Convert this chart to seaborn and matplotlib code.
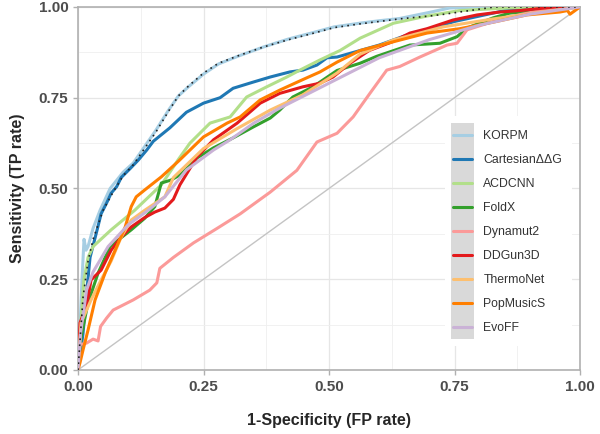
import matplotlib
matplotlib.use("Agg")
import matplotlib.pyplot as plt
import numpy as np
import pandas as pd
import seaborn as sns
from matplotlib.patches import Rectangle
from matplotlib.ticker import MultipleLocator

# ROC curves (FP rate, TP rate)
korpm_fpr = [0, 0.004, 0.008, 0.012, 0.016, 0.02, 0.03, 0.044, 0.064, 0.09, 0.11, 0.13,
             0.155, 0.18, 0.2, 0.22, 0.25, 0.28, 0.32, 0.37, 0.42, 0.47, 0.51, 0.56,
             0.6, 0.64, 0.7, 0.74, 0.8, 1.0]
korpm_tpr = [0, 0.12, 0.25, 0.36, 0.33, 0.34, 0.39, 0.44, 0.5, 0.545, 0.57, 0.61,
             0.66, 0.715, 0.755, 0.78, 0.815, 0.843, 0.865, 0.89, 0.912, 0.93, 0.945, 0.955,
             0.962, 0.968, 0.985, 0.997, 1.0, 1.0]

cartesian_fpr = [0, 0.01, 0.017, 0.024, 0.037, 0.046, 0.057, 0.066, 0.077, 0.086, 0.104, 0.12,
                 0.137, 0.15, 0.183, 0.216, 0.25, 0.283, 0.309, 0.349, 0.383, 0.422, 0.448,
                 0.476, 0.496, 0.516, 0.562, 0.6, 0.65, 0.7, 0.75, 0.8, 0.85, 0.9, 1.0]
cartesian_tpr = [0, 0.1, 0.21, 0.31, 0.38, 0.43, 0.46, 0.487, 0.505, 0.53, 0.555, 0.578,
                 0.606, 0.63, 0.667, 0.71, 0.735, 0.75, 0.776, 0.793, 0.807, 0.821, 0.826,
                 0.84, 0.86, 0.862, 0.88, 0.895, 0.92, 0.94, 0.96, 0.975, 0.99, 1.0, 1.0]

acdcnn_fpr = [0, 0.005, 0.012, 0.02, 0.03, 0.066, 0.113, 0.166, 0.2, 0.223, 0.263, 0.303,
              0.336, 0.376, 0.416, 0.442, 0.482, 0.522, 0.562, 0.628, 0.695, 0.76, 0.827,
              0.9, 1.0]
acdcnn_tpr = [0, 0.12, 0.25, 0.31, 0.34, 0.386, 0.44, 0.51, 0.58, 0.625, 0.68, 0.697,
              0.752, 0.78, 0.807, 0.826, 0.854, 0.88, 0.914, 0.955, 0.975, 0.99, 0.995,
              1.0, 1.0]

foldx_fpr = [0, 0.006, 0.02, 0.04, 0.064, 0.08, 0.106, 0.133, 0.153, 0.166, 0.185, 0.203,
             0.237, 0.27, 0.31, 0.35, 0.383, 0.402, 0.428, 0.468, 0.516, 0.562, 0.595,
             0.661, 0.721, 0.755, 0.775, 0.827, 0.86, 0.926, 1.0]
foldx_tpr = [0, 0.09, 0.185, 0.267, 0.34, 0.358, 0.386, 0.418, 0.45, 0.515, 0.523, 0.537,
             0.584, 0.612, 0.64, 0.67, 0.694, 0.716, 0.752, 0.78, 0.825, 0.845, 0.864,
             0.895, 0.9, 0.918, 0.942, 0.97, 0.983, 0.99, 1.0]

dynamut2_fpr = [0, 0.004, 0.017, 0.03, 0.04, 0.045, 0.057, 0.07, 0.11, 0.143, 0.157, 0.163,
                0.19, 0.23, 0.277, 0.323, 0.383, 0.436, 0.476, 0.516, 0.548, 0.582, 0.615,
                0.641, 0.681, 0.735, 0.755, 0.775, 0.85, 0.92, 1.0]
dynamut2_tpr = [0, 0.07, 0.074, 0.085, 0.08, 0.12, 0.143, 0.165, 0.193, 0.22, 0.24, 0.28,
                0.31, 0.35, 0.39, 0.43, 0.49, 0.55, 0.628, 0.652, 0.697, 0.763, 0.826,
                0.836, 0.862, 0.895, 0.9, 0.937, 0.97, 0.99, 1.0]

ddgun3d_fpr = [0, 0.004, 0.017, 0.026, 0.046, 0.066, 0.086, 0.106, 0.133, 0.153, 0.173, 0.19,
               0.203, 0.237, 0.27, 0.317, 0.363, 0.402, 0.448, 0.482, 0.508, 0.542, 0.58,
               0.628, 0.661, 0.695, 0.747, 0.795, 0.84, 0.88, 0.95, 1.0]
ddgun3d_tpr = [0, 0.13, 0.175, 0.248, 0.275, 0.33, 0.366, 0.394, 0.42, 0.435, 0.446, 0.47,
               0.51, 0.587, 0.634, 0.68, 0.735, 0.762, 0.78, 0.79, 0.807, 0.845, 0.88,
               0.905, 0.928, 0.94, 0.964, 0.978, 0.986, 0.99, 1.0, 1.0]

thermonet_fpr = [0, 0.006, 0.026, 0.046, 0.066, 0.086, 0.106, 0.133, 0.173, 0.19, 0.25,
                 0.317, 0.383, 0.448, 0.516, 0.562, 0.628, 0.727, 0.827, 0.926, 1.0]
thermonet_tpr = [0, 0.13, 0.193, 0.248, 0.3, 0.366, 0.413, 0.44, 0.477, 0.53, 0.61,
                 0.665, 0.716, 0.758, 0.818, 0.87, 0.909, 0.945, 0.967, 0.986, 1.0]

popmusics_fpr = [0, 0.004, 0.01, 0.02, 0.034, 0.054, 0.074, 0.094, 0.106, 0.116, 0.133,
                 0.166, 0.2, 0.25, 0.297, 0.323, 0.363, 0.402, 0.448, 0.482, 0.516, 0.562,
                 0.628, 0.695, 0.76, 0.827, 0.894, 0.96, 0.975, 0.98, 1.0]
popmusics_tpr = [0, 0.02, 0.055, 0.11, 0.193, 0.267, 0.33, 0.394, 0.45, 0.477, 0.496,
                 0.532, 0.575, 0.642, 0.68, 0.697, 0.744, 0.771, 0.8, 0.821, 0.848, 0.88,
                 0.904, 0.928, 0.94, 0.958, 0.978, 0.986, 0.99, 0.98, 1.0]

evoff_fpr = [0, 0.005, 0.017, 0.03, 0.06, 0.1, 0.14, 0.173, 0.216, 0.27, 0.303, 0.35,
             0.4, 0.5, 0.6, 0.7, 0.8, 0.9, 1.0]
evoff_tpr = [0, 0.1, 0.22, 0.27, 0.34, 0.4, 0.44, 0.477, 0.551, 0.606, 0.634, 0.68,
             0.72, 0.79, 0.86, 0.91, 0.95, 0.98, 1.0]

# dotted reference curve drawn over KORPM
dotted_fpr = [0, 0.005, 0.01, 0.02, 0.03, 0.05, 0.07, 0.09, 0.11, 0.13, 0.155, 0.18, 0.2,
              0.22, 0.25, 0.28, 0.32, 0.37, 0.42, 0.47, 0.51, 0.56, 0.6, 0.64, 0.7, 0.73,
              0.78, 0.83, 1.0]
dotted_tpr = [0, 0.1, 0.2, 0.3, 0.36, 0.44, 0.49, 0.535, 0.565, 0.605, 0.655, 0.712, 0.755,
              0.782, 0.818, 0.845, 0.866, 0.89, 0.91, 0.928, 0.943, 0.953, 0.96, 0.967, 0.975,
              0.98, 0.99, 1.0, 1.0]

methods = ["KORPM", "CartesianΔΔG", "ACDCNN", "FoldX", "Dynamut2",
           "DDGun3D", "ThermoNet", "PopMusicS", "EvoFF"]
curves = [(korpm_fpr, korpm_tpr), (cartesian_fpr, cartesian_tpr), (acdcnn_fpr, acdcnn_tpr),
          (foldx_fpr, foldx_tpr), (dynamut2_fpr, dynamut2_tpr), (ddgun3d_fpr, ddgun3d_tpr),
          (thermonet_fpr, thermonet_tpr), (popmusics_fpr, popmusics_tpr),
          (evoff_fpr, evoff_tpr)]

frames = []
for name, (fpr, tpr) in zip(methods, curves):
    frames.append(pd.DataFrame({"fpr": fpr, "tpr": tpr, "method": name}))
df = pd.concat(frames, ignore_index=True)
df_dot = pd.DataFrame({"fpr": dotted_fpr, "tpr": dotted_tpr})
df_diag = pd.DataFrame({"fpr": [0, 1], "tpr": [0, 1]})

palette = dict(zip(methods, sns.color_palette("Paired", 9)))

sns.set_theme(style="white")
plt.rcParams["font.family"] = ["Liberation Sans", "DejaVu Sans"]

fig, ax = plt.subplots(figsize=(6, 4.34), dpi=100)
fig.subplots_adjust(left=0.13, right=0.9667, bottom=0.1475, top=0.984)

sns.lineplot(data=df_diag, x="fpr", y="tpr", color="#c4c4c4", lw=1, ax=ax, zorder=2)
sns.lineplot(data=df, x="fpr", y="tpr", hue="method", hue_order=methods, palette=palette,
             sort=False, estimator=None, lw=2.2, ax=ax, zorder=3)
sns.lineplot(data=df_dot, x="fpr", y="tpr", sort=False, estimator=None, color="#222222",
             lw=1.2, ax=ax, zorder=4, dashes=False, linestyle=(0, (1, 2.6)))

ax.set_xlim(0, 1)
ax.set_ylim(0, 1)
ax.xaxis.set_major_locator(MultipleLocator(0.25))
ax.yaxis.set_major_locator(MultipleLocator(0.25))
ax.xaxis.set_minor_locator(MultipleLocator(0.125))
ax.yaxis.set_minor_locator(MultipleLocator(0.125))
ax.xaxis.set_major_formatter(lambda v, p: f"{v:.2f}")
ax.yaxis.set_major_formatter(lambda v, p: f"{v:.2f}")
ax.grid(which="major", color="#e6e6e6", lw=0.9)
ax.grid(which="minor", color="#efefef", lw=0.6)
ax.set_axisbelow(True)
for s in ax.spines.values():
    s.set_color("#b0b0b0")
    s.set_linewidth(1.2)
ax.tick_params(which="major", direction="out", length=3.5, width=1, color="#b0b0b0",
               labelsize=11, labelcolor="#4d4d4d", bottom=True, left=True)
ax.tick_params(which="minor", length=0)
for t in ax.get_xticklabels() + ax.get_yticklabels():
    t.set_fontweight("bold")

ax.set_xlabel("1-Specificity (FP rate)", fontsize=11.5, fontweight="bold", labelpad=14)
ax.set_ylabel("Sensitivity (TP rate)", fontsize=11.5, fontweight="bold", labelpad=10)

handles, labels = ax.get_legend_handles_labels()
if ax.get_legend() is not None:
    ax.get_legend().remove()
leg = ax.legend(handles[:9], labels[:9], loc="upper left", bbox_to_anchor=(0.737, 0.674),
                frameon=False, fontsize=8.8, handlelength=1.6, handletextpad=0.9,
                labelspacing=0.98, borderpad=0.4, borderaxespad=0)
for t in leg.get_texts():
    t.set_color("#333333")

# legend background and grey key column, placed from the rendered legend
fig.canvas.draw()
r = fig.canvas.get_renderer()
inv = ax.transAxes.inverted()
lb = leg.get_window_extent(r)
hb = [h.get_window_extent(r) for h in leg.get_lines()]
cy = [(b.y0 + b.y1) / 2 for b in hb]
pitch = (max(cy) - min(cy)) / (len(cy) - 1)
kx0 = min(b.x0 for b in hb) - 2
kx1 = max(b.x1 for b in hb) + 2
ky0 = min(cy) - pitch / 2
ky1 = max(cy) + pitch / 2
(a0, b0), (a1, b1) = inv.transform([(lb.x0 - 3, ky0 - 7), (lb.x1 + 5, ky1 + 7)])
ax.add_patch(Rectangle((a0, b0), a1 - a0, b1 - b0, transform=ax.transAxes,
                       facecolor="white", edgecolor="none", zorder=4.8))
(a0, b0), (a1, b1) = inv.transform([(kx0, ky0), (kx1, ky1)])
ax.add_patch(Rectangle((a0, b0), a1 - a0, b1 - b0, transform=ax.transAxes,
                       facecolor="#d9d9d9", edgecolor="none", zorder=4.9))
leg.set_zorder(5)

fig.savefig("out.png", dpi=100)
